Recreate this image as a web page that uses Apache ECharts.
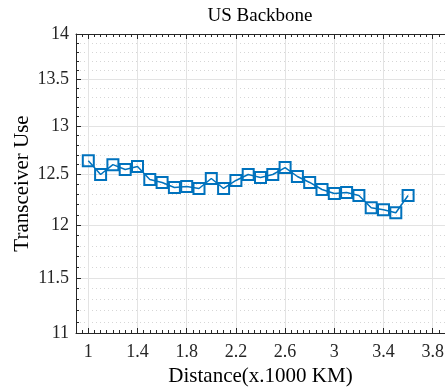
<!DOCTYPE html>
<html>
<head>
<meta charset="utf-8">
<script src="https://cdn.jsdelivr.net/npm/echarts@6/dist/echarts.min.js"></script>
<style>
  html, body { margin: 0; padding: 0; background: #fff; }
  #chart { width: 445px; height: 387px; }
</style>
</head>
<body>
<div id="chart"></div>
<script>
  // distance in thousands of km
  const distances = [1.0, 1.1, 1.2, 1.3, 1.4, 1.5, 1.6, 1.7, 1.8, 1.9, 2.0, 2.1, 2.2, 2.3,
    2.4, 2.5, 2.6, 2.7, 2.8, 2.9, 3.0, 3.1, 3.2, 3.3, 3.4, 3.5, 3.6];
  // transceiver use
  const transceiverUse = [12.64, 12.50, 12.60, 12.55, 12.58, 12.45, 12.42, 12.37, 12.38, 12.36,
    12.46, 12.36, 12.44, 12.50, 12.47, 12.50, 12.57, 12.48, 12.42, 12.35, 12.31, 12.32, 12.29,
    12.17, 12.15, 12.12, 12.29];

  const xTicks = [1, 1.4, 1.8, 2.2, 2.6, 3, 3.4, 3.8];
  const xMinorTicks = [0.9, 0.95, 1.05, 1.1, 1.15, 1.2, 1.25, 1.3, 1.35, 1.45, 1.5, 1.55, 1.6,
    1.65, 1.7, 1.75, 1.85, 1.9, 1.95, 2.0, 2.05, 2.1, 2.15, 2.25, 2.3, 2.35, 2.4, 2.45, 2.5,
    2.55, 2.65, 2.7, 2.75, 2.8, 2.85, 2.9, 2.95, 3.05, 3.1, 3.15, 3.2, 3.25, 3.3, 3.35, 3.45,
    3.5, 3.55, 3.6, 3.65, 3.7, 3.75, 3.85];
  const yTicks = [11, 11.5, 12, 12.5, 13, 13.5, 14];
  const yMinorTicks = [11.1, 11.2, 11.3, 11.4, 11.6, 11.7, 11.8, 11.9, 12.1, 12.2, 12.3, 12.4,
    12.6, 12.7, 12.8, 12.9, 13.1, 13.2, 13.3, 13.4, 13.6, 13.7, 13.8, 13.9];

  const axisColor = '#262626';
  const font = 'Liberation Serif';

  const chart = echarts.init(document.getElementById('chart'));

  const hidden = { show: false };

  chart.setOption({
    animation: false,
    title: {
      text: 'US Backbone',
      left: 255,
      top: 2,
      textAlign: 'center',
      textStyle: { fontFamily: font, fontSize: 19, fontWeight: 'normal', color: '#000' }
    },
    grid: { left: 76, right: 0, top: 34, bottom: 54, outerBoundsMode: 'none' },
    xAxis: [
      // main bottom axis
      {
        type: 'value', min: 0.9, max: 3.9, position: 'bottom',
        name: 'Distance(x.1000 KM)', nameLocation: 'middle', nameGap: 32,
        nameTextStyle: { fontFamily: font, fontSize: 21, color: '#000' },
        axisLine: { onZero: false, lineStyle: { color: axisColor, width: 1 } },
        axisTick: { inside: true, length: 5, customValues: xTicks, lineStyle: { color: axisColor } },
        axisLabel: {
          customValues: xTicks, margin: 10,
          fontFamily: font, fontSize: 18, color: axisColor,
          formatter: (v) => String(Number(v.toFixed(1)))
        },
        splitLine: { show: true, lineStyle: { color: '#e3e3e3', width: 1 } }
      },
      // bottom minor ticks
      {
        type: 'value', min: 0.9, max: 3.9, position: 'bottom',
        axisLine: { show: false },
        axisTick: { inside: true, length: 3, customValues: xMinorTicks, lineStyle: { color: axisColor } },
        axisLabel: hidden, splitLine: hidden
      },
      // top box edge
      {
        type: 'value', min: 0.9, max: 3.9, position: 'top',
        axisLine: { onZero: false, lineStyle: { color: axisColor, width: 1 } },
        axisTick: { inside: true, length: 5, customValues: xTicks, lineStyle: { color: axisColor } },
        axisLabel: hidden, splitLine: hidden
      },
      {
        type: 'value', min: 0.9, max: 3.9, position: 'top',
        axisLine: { show: false },
        axisTick: { inside: true, length: 3, customValues: xMinorTicks, lineStyle: { color: axisColor } },
        axisLabel: hidden, splitLine: hidden
      }
    ],
    yAxis: [
      {
        type: 'log', logBase: 10, min: 11, max: 14, position: 'left',
        name: 'Transceiver Use', nameLocation: 'middle', nameGap: 43, nameMoveOverlap: false,
        nameTextStyle: { fontFamily: font, fontSize: 21, color: '#000' },
        axisLine: { show: true, onZero: false, lineStyle: { color: axisColor, width: 1 } },
        axisTick: { show: true, inside: true, length: 5, customValues: yTicks, lineStyle: { color: axisColor } },
        axisLabel: {
          customValues: yTicks, margin: 7,
          fontFamily: font, fontSize: 18, color: axisColor,
          formatter: (v) => String(Number(v.toFixed(1)))
        },
        splitLine: { show: true, lineStyle: { color: '#e3e3e3', width: 1 } }
      },
      // minor ticks and dotted minor grid
      {
        type: 'log', logBase: 10, min: 11, max: 14, position: 'left',
        axisLine: { show: false },
        axisTick: { show: true, inside: true, length: 3, customValues: yMinorTicks, lineStyle: { color: axisColor } },
        axisLabel: { show: false, customValues: yMinorTicks },
        splitLine: { show: true, lineStyle: { color: '#d6d6d6', width: 1, type: [1, 3] } }
      }
    ],
    series: [
      {
        type: 'line',
        xAxisIndex: 0,
        yAxisIndex: 0,
        data: distances.map((d, i) => [d, transceiverUse[i]]),
        symbol: 'rect',
        symbolSize: 11,
        showAllSymbol: true,
        lineStyle: { color: '#0072BD', width: 1.5 },
        itemStyle: { color: 'transparent', borderColor: '#0072BD', borderWidth: 2 }
      }
    ]
  });
</script>
</body>
</html>
